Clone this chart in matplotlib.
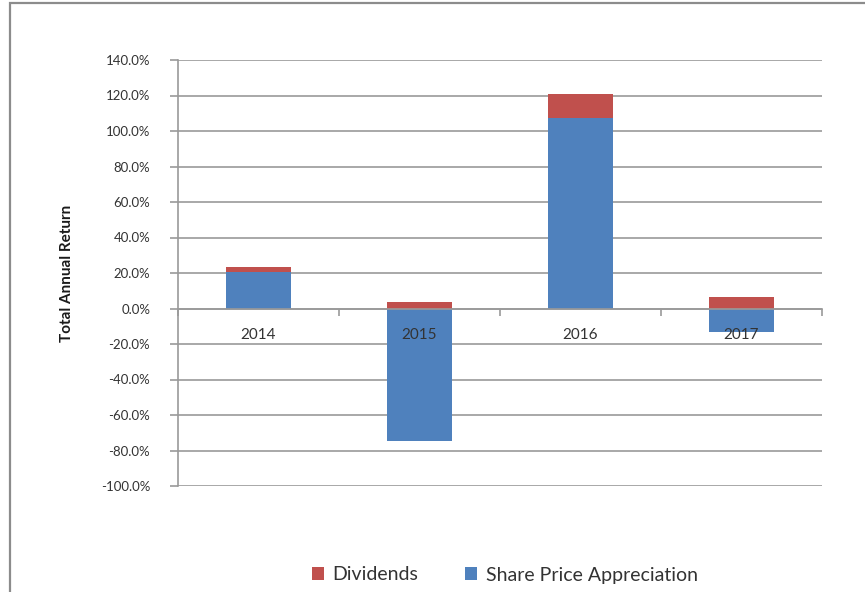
import matplotlib
matplotlib.use("Agg")
import matplotlib.pyplot as plt
import numpy as np
from matplotlib.patches import Rectangle
from matplotlib.ticker import FuncFormatter, FixedLocator
from matplotlib.transforms import offset_copy

years = ["2014", "2015", "2016", "2017"]
share_price = [20.5, -74.5, 107.5, -13.2]
dividends = [3.0, 3.4, 13.2, 6.2]

BLUE = "#4F81BD"
RED = "#C0504D"
GRID = "#9a9a9a"
TEXT = "#333333"

plt.rcParams["font.family"] = ["Lato", "DejaVu Sans"]

fig = plt.figure(figsize=(8.65, 5.92), dpi=100)
fig.patch.set_facecolor("white")

# outer chart frame
fig.patches.append(Rectangle((10 / 865, -0.05), 1.2, 1 - 3 / 592 + 0.05,
                             transform=fig.transFigure, fill=False,
                             edgecolor="#8c8c8c", linewidth=1.6))

ax = fig.add_axes([178 / 865, 1 - 486 / 592, (822 - 178) / 865, (486 - 60) / 592])

x = np.arange(len(years))
width = 0.4
div_bottom = [max(v, 0) for v in share_price]

ax.bar(x, share_price, width, color=BLUE, label="Share Price Appreciation", zorder=2)
ax.bar(x, dividends, width, bottom=div_bottom, color=RED, label="Dividends", zorder=2)

ax.set_xlim(-0.5, len(years) - 0.5)
ax.set_ylim(-100, 140)
ax.set_yticks(np.arange(-100, 141, 20))
ax.yaxis.set_major_formatter(FuncFormatter(lambda v, _: f"{v:.1f}%"))
ax.grid(axis="y", color=GRID, linewidth=1.2, zorder=0)
ax.set_axisbelow(True)

# category axis crossing at zero
ax.spines["bottom"].set_position(("data", 0))
ax.spines["bottom"].set_color(GRID)
ax.spines["bottom"].set_linewidth(1.2)
ax.spines["left"].set_color(GRID)
ax.spines["left"].set_linewidth(1.2)
ax.spines["top"].set_visible(False)
ax.spines["right"].set_visible(False)

ax.xaxis.set_major_locator(FixedLocator(np.arange(-0.5, len(years), 1.0)))
ax.xaxis.set_major_formatter(FuncFormatter(lambda v, _: ""))
ax.tick_params(axis="x", which="major", length=5, color=GRID, width=1.2, direction="out")
ax.tick_params(axis="y", length=5.5, color=GRID, width=1.2, labelsize=9.5,
               labelcolor=TEXT, pad=14.5)

# category labels sit just under the zero line, drawn over the bars
label_tf = offset_copy(ax.transData, fig=fig, x=0, y=-14, units="points")
for xi, yr in zip(x, years):
    ax.text(xi, 0, yr, transform=label_tf, ha="center", va="top",
            fontsize=11, color=TEXT, zorder=6)

ax.set_ylabel("Total Annual Return", fontsize=11, fontweight="bold", color="#1a1a1a")
ax.yaxis.set_label_coords(-104 / 644, 0.5)

handles, labels = ax.get_legend_handles_labels()
fig.legend(handles[::-1], labels[::-1], loc="center", bbox_to_anchor=(505 / 865, 1 - 575 / 592),
           ncol=2, frameon=False, fontsize=14, handlelength=0.6, handleheight=0.6,
           columnspacing=2.4, handletextpad=0.45, labelcolor=TEXT)

fig.savefig("out.png", dpi=100, facecolor="white")
